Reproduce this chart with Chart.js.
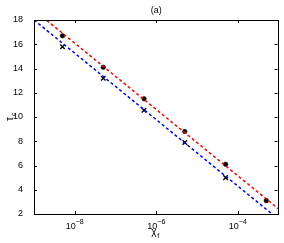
<!DOCTYPE html>
<html><head><meta charset="utf-8">
<script src="https://cdn.jsdelivr.net/npm/chart.js@4/dist/chart.umd.min.js"></script>
<style>html,body{margin:0;padding:0;background:#fff}canvas{display:block}</style>
</head><body>
<canvas id="c" width="284" height="243"></canvas>
<script>
const chiDots = [5e-9, 5e-8, 5e-7, 5e-6, 5e-5, 5e-4];
const tauDots = [16.7, 14.1, 11.5, 8.8, 6.1, 3.1];
const chiCross = [5e-9, 5e-8, 5e-7, 5e-6, 5e-5];
const tauCross = [15.8, 13.2, 10.55, 7.9, 5.0];
const chiFit = [1e-9, 1e-3];
const tauFitRed = [18.82, 2.42];
const tauFitBlue = [18.0, 1.56];
const xTickVals = [1e-8, 1e-6, 1e-4];
const xTickExp = ['−8', '−6', '−4'];
const yTicks = [2, 4, 6, 8, 10, 12, 14, 16, 18];
const titleText = '(a)';
const FONT = 'Liberation Sans, Arial, Helvetica, sans-serif';

const pts = (xs, ys) => xs.map((x, i) => ({x, y: ys[i]}));

const deco = {
  id: 'deco',
  afterDraw(chart) {
    const ctx = chart.ctx, a = chart.chartArea;
    const xs = chart.scales.x, ys = chart.scales.y;
    ctx.save();
    ctx.strokeStyle = '#000'; ctx.lineWidth = 1;
    ctx.strokeRect(Math.round(a.left) + 0.5, Math.round(a.top) + 0.5,
      Math.round(a.right - a.left) - 1, Math.round(a.bottom - a.top));
    ctx.beginPath();
    const tl = 3;
    yTicks.forEach(v => {
      const y = Math.round(ys.getPixelForValue(v)) + 0.5;
      ctx.moveTo(a.left, y); ctx.lineTo(a.left + tl, y);
      ctx.moveTo(a.right - 1, y); ctx.lineTo(a.right - 1 - tl, y);
    });
    xTickVals.forEach(v => {
      const x = Math.round(xs.getPixelForValue(v)) + 0.5;
      ctx.moveTo(x, a.bottom); ctx.lineTo(x, a.bottom - tl);
      ctx.moveTo(x, a.top); ctx.lineTo(x, a.top + tl);
    });
    ctx.stroke();
    ctx.fillStyle = '#000';
    xTickVals.forEach((v, i) => {
      const x = xs.getPixelForValue(v);
      ctx.font = '9px ' + FONT;
      const bw = ctx.measureText('10').width;
      ctx.font = '7px ' + FONT;
      const ew = ctx.measureText(xTickExp[i]).width;
      const start = x - (bw + ew) / 2;
      ctx.textBaseline = 'alphabetic'; ctx.textAlign = 'left';
      ctx.font = '9px ' + FONT;
      ctx.fillText('10', start, a.bottom + 15);
      ctx.font = '7px ' + FONT;
      ctx.fillText(xTickExp[i], start + bw, a.bottom + 10);
    });
    const cx = (a.left + a.right) / 2;
    ctx.font = '10px ' + FONT;
    ctx.textAlign = 'left';
    ctx.fillText('χ', cx - 5, a.bottom + 21);
    ctx.font = '7px ' + FONT;
    ctx.fillText('f', cx + 1, a.bottom + 24);
    ctx.save();
    ctx.translate(13, (a.top + a.bottom) / 2);
    ctx.rotate(-Math.PI / 2);
    ctx.font = '10px ' + FONT;
    ctx.fillText('τ', -4, 0);
    ctx.font = '7px ' + FONT;
    ctx.fillText('c', 1, 3);
    ctx.restore();
    ctx.font = '9px ' + FONT;
    ctx.textAlign = 'center';
    ctx.fillText(titleText, cx, 13);
    ctx.restore();
  }
};

new Chart(document.getElementById('c'), {
  type: 'scatter',
  data: {
    datasets: [
      {data: pts(chiFit, tauFitRed), showLine: true, borderColor: '#ff0000', borderWidth: 1.5,
       borderDash: [3, 2.5], pointRadius: 0, fill: false},
      {data: pts(chiFit, tauFitBlue), showLine: true, borderColor: '#0000ff', borderWidth: 1.5,
       borderDash: [3, 2.5], pointRadius: 0, fill: false},
      {data: pts(chiDots, tauDots), showLine: false, pointStyle: 'circle', pointRadius: 2.3,
       backgroundColor: '#000', borderColor: '#000', borderWidth: 0.5},
      {data: pts(chiCross, tauCross), showLine: false, pointStyle: 'crossRot', pointRadius: 3.2,
       borderColor: '#000', borderWidth: 1.4}
    ]
  },
  options: {
    responsive: false, animation: false, devicePixelRatio: 1,
    layout: {padding: {left: 0, right: 2, top: 20, bottom: 0}},
    plugins: {legend: {display: false}, tooltip: {enabled: false}},
    scales: {
      x: {
        type: 'logarithmic', min: 1e-9, max: 1e-3,
        grid: {display: false}, border: {display: false},
        ticks: {display: false},
        afterBuildTicks: s => { s.ticks = xTickVals.map(v => ({value: v})); },
        afterFit: s => { s.height = 29; }
      },
      y: {
        type: 'linear', min: 2, max: 18,
        grid: {display: false}, border: {display: false},
        ticks: {stepSize: 2, color: '#000', padding: 3, font: {size: 9, family: FONT}},
        afterBuildTicks: s => { s.ticks = yTicks.map(v => ({value: v})); },
        afterFit: s => { s.width = 34; }
      }
    }
  },
  plugins: [deco]
});
</script>
</body></html>
